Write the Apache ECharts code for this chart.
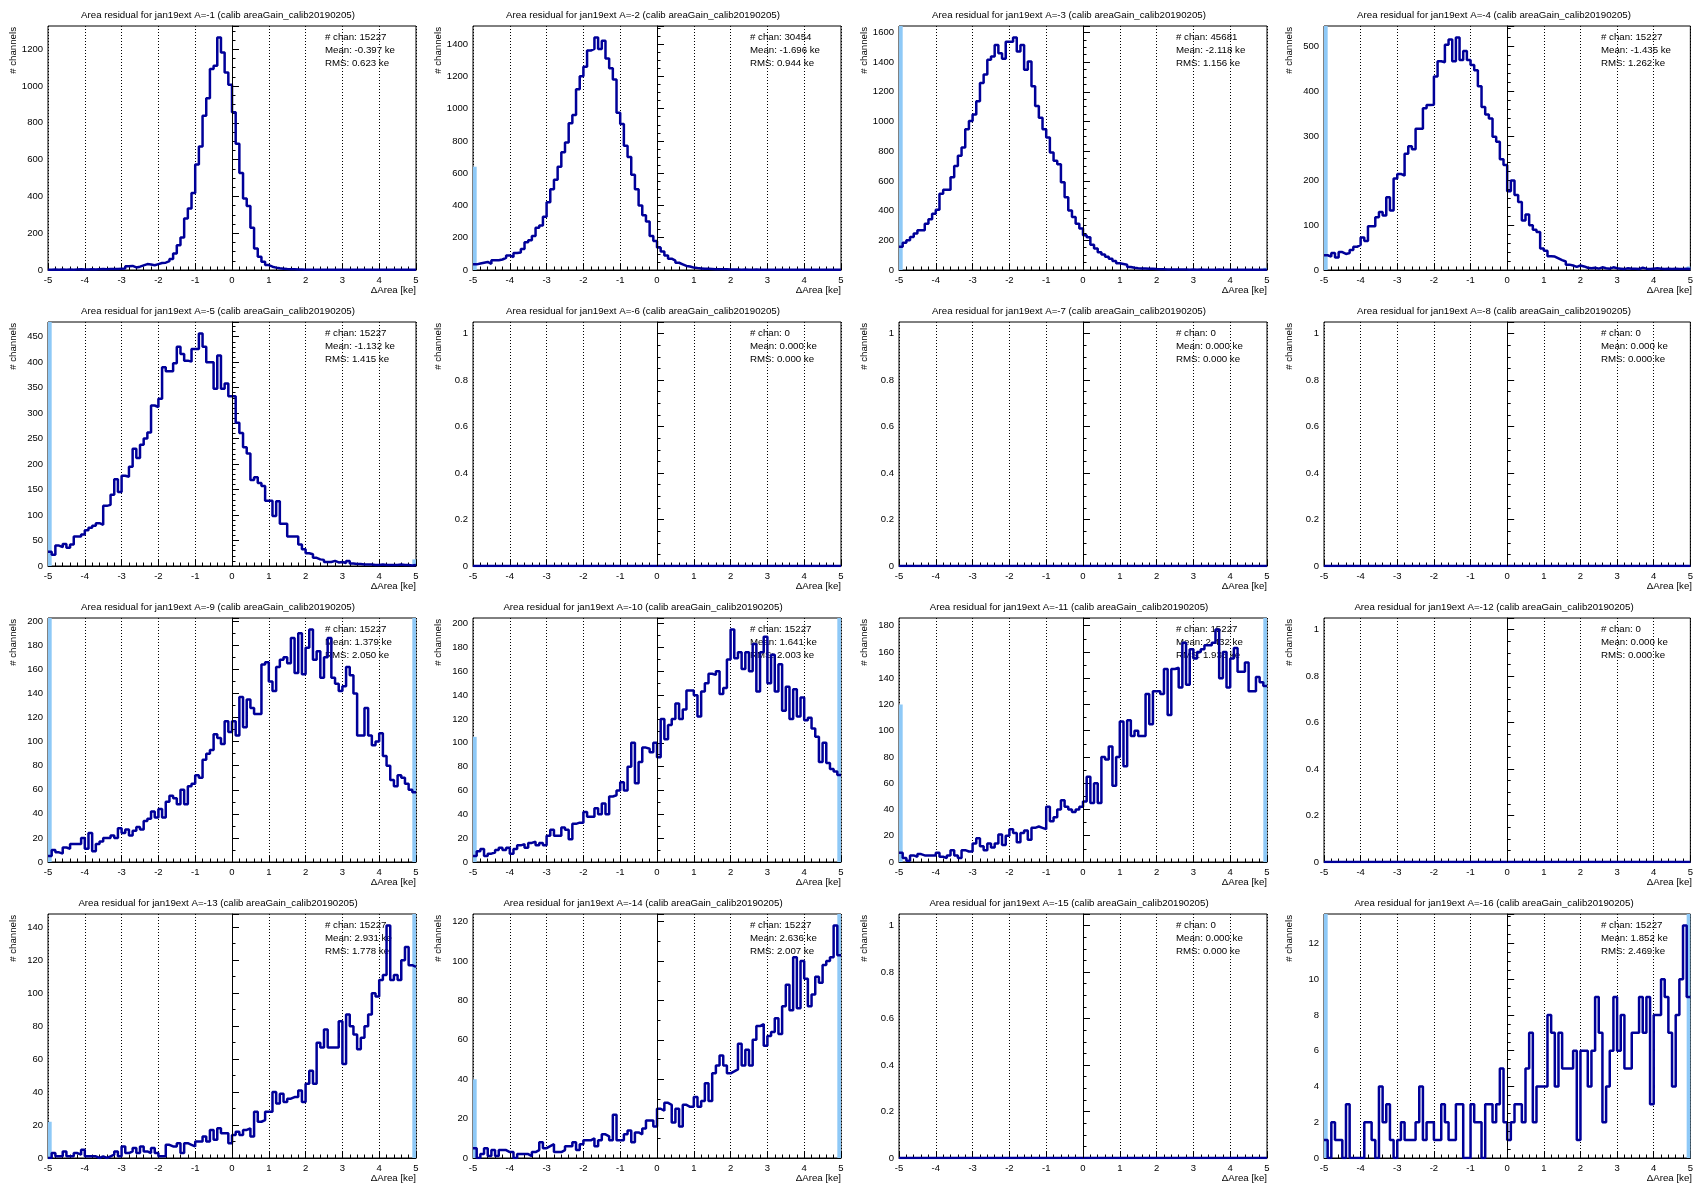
<!DOCTYPE html>
<html><head><meta charset="utf-8">
<script src="https://cdn.jsdelivr.net/npm/echarts@6/dist/echarts.min.js"></script>
<style>html,body{margin:0;padding:0;background:#fff}#c{width:1696px;height:1186px}</style>
</head><body><div id="c"></div>
<script>
// ---- binning ----
const BIN_MIN = -5, BIN_MAX = 5, N_BINS = 100;
const X_TICK_INTERVAL = 1;

// ---- histogram counts (100 bins, -5..5 ke) ----
const H_A1 = [2,3,2,3,2,3,2,3,4,3, 3,4,3,4,5,4,5,6,6,7, 8,20,22,14,18,25,32,30,26,32, 38,40,48,60,90,135,177,280,334,419,
  574,671,839,933,1092,1110,1263,1182,1074,1007, 857,686,527,388,348,229,117,72,45,27, 18,13,9,7,5,4,4,3,3,2,
  2,2,1,2,1,2,1,1,2,1, 1,1,2,1,1,1,1,2,1,1, 1,1,1,1,1,1,1,1,1,1];
const H_A2 = [35,40,45,50,38,60,60,65,75,90, 80,105,108,130,172,185,210,262,275,330, 420,500,560,640,730,790,910,960,1120,1200,
  1260,1360,1370,1440,1370,1420,1310,1250,1180,975, 905,770,700,590,500,400,340,300,210,180, 140,115,90,70,58,45,35,25,22,15,
  12,10,8,7,6,5,5,4,4,3, 3,3,2,3,2,2,3,2,2,2, 2,2,2,2,1,2,2,1,2,2, 2,1,2,1,2,1,1,2,1,1];
const H_A3 = [157,183,200,223,245,268,268,312,341,379, 405,513,540,540,625,700,770,825,948,1003, 1048,1137,1260,1316,1416,1438,1516,1460,1423,1538,
  1538,1565,1472,1516,1349,1405,1237,1104,1026,948, 892,792,736,713,591,490,401,357,312,279, 234,220,170,145,120,105,90,75,60,45,
  40,35,20,15,12,10,10,8,8,6, 5,5,4,4,3,4,3,3,2,3, 2,3,2,2,2,2,3,2,2,2, 2,2,1,2,2,1,2,1,2,2];
const H_A4 = [33,30,38,28,40,36,38,45,52,56, 73,65,98,98,118,130,122,163,133,205, 215,211,260,277,270,316,316,362,369,370,
  433,467,465,504,516,467,520,470,490,470, 459,447,411,365,348,339,298,287,248,235, 176,200,168,152,111,124,100,90,85,48,
  43,31,30,26,22,19,12,10,7,10, 8,5,4,5,3,6,4,3,6,4, 3,2,4,3,3,2,5,3,2,3, 4,3,2,3,2,3,2,2,3,2];
const H_A5 = [28,22,40,37,43,36,42,58,58,62, 70,75,79,84,81,118,120,140,170,145, 177,175,195,230,212,238,250,262,315,312,
  328,390,382,382,398,430,416,403,401,426, 426,456,430,400,400,348,413,348,358,333, 333,281,261,233,221,169,174,163,157,128,
  128,98,127,83,83,58,58,58,42,33, 25,23,16,13,12,8,8,10,7,8, 6,10,5,4,4,3,3,3,2,2, 3,2,2,2,2,3,2,2,1,2];
const H_EMPTY = [0,0,0,0,0,0,0,0,0,0, 0,0,0,0,0,0,0,0,0,0, 0,0,0,0,0,0,0,0,0,0, 0,0,0,0,0,0,0,0,0,0, 0,0,0,0,0,0,0,0,0,0,
  0,0,0,0,0,0,0,0,0,0, 0,0,0,0,0,0,0,0,0,0, 0,0,0,0,0,0,0,0,0,0, 0,0,0,0,0,0,0,0,0,0, 0,0,0,0,0,0,0,0,0,0];
const H_A9 = [5,10,8,7,12,11,15,15,15,20, 11,24,9,15,17,20,20,22,20,28, 24,27,22,26,29,27,34,36,42,37,
  44,37,50,55,53,48,60,48,63,65, 72,70,85,90,93,106,103,98,117,108, 117,105,137,112,135,128,123,123,164,166,
  150,142,162,168,170,165,186,157,190,156, 178,193,168,175,153,170,186,153,148,142, 146,162,155,140,105,105,128,105,97,100,
  107,88,80,68,63,72,70,65,60,58];
const H_A10 = [5,9,11,5,7,8,10,12,10,12, 7,11,14,15,12,16,17,14,16,14, 22,27,22,22,29,27,19,32,33,33,
  42,38,38,45,40,49,40,55,56,60, 67,60,80,100,66,84,96,95,92,100, 88,120,103,115,120,133,120,128,144,144,
  140,122,143,150,158,157,160,141,146,170, 195,171,176,162,176,160,183,143,176,189, 150,174,143,166,127,147,120,145,122,138,
  119,121,112,105,84,100,83,78,76,73];
const H_A11 = [7,3,1,5,4,6,5,5,5,5, 7,4,3,5,9,5,3,9,8,8, 14,18,12,9,14,11,14,21,13,20,
  25,22,15,22,24,17,26,27,26,25, 42,31,34,40,47,42,40,38,40,42, 46,65,45,60,45,80,78,88,58,80,
  107,73,108,96,100,96,96,128,105,130, 130,128,147,112,147,148,133,167,135,162, 155,160,162,165,165,167,177,140,160,133,
  155,163,145,145,152,130,130,141,137,134];
const H_A13 = [0,3,1,1,4,1,1,3,2,5, 1,1,1,0,1,0,1,2,4,1, 7,3,4,6,3,7,4,3,6,3,
  1,1,8,7,7,9,3,9,8,7, 10,10,13,10,17,11,18,15,15,9, 14,16,14,17,18,13,28,22,23,28,
  28,40,33,39,34,36,37,37,41,34, 45,53,45,70,67,78,67,67,67,83, 57,87,80,75,66,73,80,87,100,98,
  108,111,141,108,111,108,120,128,117,116];
const H_A14 = [5,0,2,5,1,4,1,4,4,3, 3,0,2,2,2,1,3,4,8,5, 6,7,3,3,4,6,6,8,4,7,
  9,9,10,6,9,12,11,9,22,9, 9,12,14,8,13,12,15,19,19,16, 25,24,28,27,18,25,16,27,26,26,
  31,26,29,38,29,43,47,52,47,43, 44,45,58,47,55,47,60,67,68,57, 62,64,71,63,77,88,75,102,76,100,
  91,77,83,92,89,98,100,102,118,103];
const H_A16 = [1,0,2,1,1,0,3,0,0,0, 0,2,2,1,0,4,2,3,1,0, 1,2,1,1,1,2,4,1,2,2,
  1,1,3,2,1,1,3,3,0,0, 3,2,2,0,3,3,2,3,5,2, 1,2,3,3,2,5,7,2,4,4,
  4,8,7,4,7,5,5,5,6,1, 6,6,4,6,9,7,2,4,6,9, 6,8,5,5,7,7,9,7,9,3,
  8,8,10,9,7,4,8,10,13,9];

const COUNTS = [H_A1,H_A2,H_A3,H_A4, H_A5,H_EMPTY,H_EMPTY,H_EMPTY, H_A9,H_A10,H_A11,H_EMPTY, H_A13,H_A14,H_EMPTY,H_A16];
// under/overflow indicators (light blue, clipped at the frame)
const UNDERFLOW = [0,640,2500,800, 600,0,0,0, 260,105,120,0, 22,40,0,20];
const OVERFLOW  = [0,0,15,8, 13,0,0,0, 260,260,240,0, 200,160,0,20];

const A_LABELS = ['-1','-2','-3','-4','-5','-6','-7','-8','-9','-10','-11','-12','-13','-14','-15','-16'];
const N_CHAN = ['15227','30454','45681','15227','15227','0','0','0','15227','15227','15227','0','15227','15227','0','15227'];
const MEAN = ['-0.397','-1.696','-2.118','-1.435','-1.132','0.000','0.000','0.000','1.379','1.641','2.432','0.000','2.931','2.636','0.000','1.852'];
const RMS  = ['0.623','0.944','1.156','1.262','1.415','0.000','0.000','0.000','2.050','2.003','1.936','0.000','1.778','2.007','0.000','2.469'];
const Y_INTERVAL = [200,200,200,100, 50,0.2,0.2,0.2, 20,20,20,0.2, 20,20,0.2,2];
const Y_MINOR = [4,4,4,5, 5,4,4,4, 2,2,2,4, 2,2,4,4];

const FONT = '"Liberation Sans", Arial, Helvetica, sans-serif';
const LINE_COLOR = '#000099';
const FLOW_COLOR = '#8ec9f7';

const chart = echarts.init(document.getElementById('c'), null, {renderer: 'canvas'});
const grids = [], xAxes = [], yAxes = [], series = [], graphics = [];
const binW = (BIN_MAX - BIN_MIN) / N_BINS;

for (let p = 0; p < 16; p++) {
  const c = p % 4, r = Math.floor(p / 4);
  const left = Math.round(48 + 425.3 * c), top = 26 + 296 * r, W = 368, H = 244;
  grids.push({left: left, top: top, width: W, height: H, show: true, borderColor: '#000', borderWidth: 1, backgroundColor: 'transparent'});
  const counts = COUNTS[p];
  const maxv = Math.max.apply(null, counts);
  const ymax = maxv > 0 ? maxv * 1.05 : 1.05;
  xAxes.push({
    type: 'value', gridIndex: p, min: BIN_MIN, max: BIN_MAX, interval: X_TICK_INTERVAL,
    axisLine: {show: true, lineStyle: {color: '#000', width: 1}},
    axisTick: {show: true, inside: true, length: 7, lineStyle: {color: '#000', width: 1}},
    minorTick: {show: true, splitNumber: 5, length: 3.5, lineStyle: {color: '#000', width: 1}},
    axisLabel: {show: true, color: '#000', fontSize: 9.5, fontFamily: FONT, margin: 5, showMinLabel: true, showMaxLabel: true,
      formatter: function (v) { return String(v); }},
    splitLine: {show: true, lineStyle: {color: '#000', width: 1, type: [1, 2]}}
  });
  yAxes.push({
    type: 'value', gridIndex: p, min: 0, max: ymax, interval: Y_INTERVAL[p],
    axisLine: {show: true, lineStyle: {color: '#000', width: 1}},
    axisTick: {show: true, inside: true, length: 7, lineStyle: {color: '#000', width: 1}},
    minorTick: {show: true, splitNumber: Y_MINOR[p], length: 3.5, lineStyle: {color: '#000', width: 1}},
    axisLabel: {show: true, color: '#000', fontSize: 9.5, fontFamily: FONT, margin: 5, showMaxLabel: false,
      formatter: function (v) { return String(parseFloat(Number(v).toFixed(6))); }},
    splitLine: {show: false}
  });
  const pts = [];
  for (let i = 0; i < N_BINS; i++) pts.push([BIN_MIN + i * binW, counts[i]]);
  pts.push([BIN_MAX, counts[N_BINS - 1]]);
  const flow = [];
  if (UNDERFLOW[p] > 0) flow.push([BIN_MIN + binW / 2, UNDERFLOW[p]]);
  if (OVERFLOW[p] > 0) flow.push([BIN_MAX - binW / 2, OVERFLOW[p]]);
  series.push({
    type: 'bar', xAxisIndex: p, yAxisIndex: p, data: flow, barWidth: 3.7, clip: true, z: 1,
    itemStyle: {color: FLOW_COLOR}, silent: true, animation: false
  });
  series.push({
    type: 'line', xAxisIndex: p, yAxisIndex: p, data: pts, step: 'end', showSymbol: false, symbol: 'none',
    lineStyle: {color: LINE_COLOR, width: 2.5}, itemStyle: {color: LINE_COLOR}, z: 3, clip: true, animation: false, silent: true,
    markLine: {silent: true, symbol: ['none', 'none'], label: {show: false}, animation: false,
      lineStyle: {color: '#000', type: 'solid', width: 1}, data: [{xAxis: 0}]}
  });
  // title
  graphics.push({type: 'text', x: left + 170, y: top - 11, z: 0, silent: true,
    style: {text: 'Area residual for jan19ext A=' + A_LABELS[p] + ' (calib areaGain_calib20190205)', fill: '#000',
      fontSize: 9.7, fontFamily: FONT, align: 'center', textAlign: 'center', verticalAlign: 'middle', textVerticalAlign: 'middle'}});
  // stats
  graphics.push({type: 'text', x: left + 277, y: top + 4.5, z: 0, silent: true,
    style: {text: '# chan: ' + N_CHAN[p] + '\nMean: ' + MEAN[p] + ' ke\nRMS: ' + RMS[p] + ' ke', fill: '#000',
      fontSize: 9.7, fontFamily: FONT, lineHeight: 13.3, align: 'left', textAlign: 'left', verticalAlign: 'top', textVerticalAlign: 'top'}});
  // x axis title
  graphics.push({type: 'text', x: left + W, y: top + H + 20, z: 0, silent: true,
    style: {text: '\u0394Area [ke]', fill: '#000', fontSize: 9.7, fontFamily: FONT,
      align: 'right', textAlign: 'right', verticalAlign: 'middle', textVerticalAlign: 'middle'}});
  // y axis title
  graphics.push({type: 'text', x: left - 35, y: top + 1, rotation: Math.PI / 2, z: 0, silent: true,
    style: {text: '# channels', fill: '#000', fontSize: 9.7, fontFamily: FONT,
      align: 'right', textAlign: 'right', verticalAlign: 'middle', textVerticalAlign: 'middle'}});
}

chart.setOption({
  animation: false,
  backgroundColor: '#fff',
  grid: grids, xAxis: xAxes, yAxis: yAxes, series: series,
  graphic: {elements: graphics}
});
</script></body></html>
